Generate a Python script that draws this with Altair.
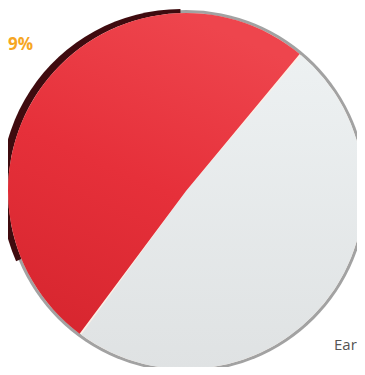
import math
import altair as alt
import pandas as pd

# ---- data ----
categories = ["Other", "Share"]
values = [49, 51]
order = [0, 1]
label_texts = ["9%", "Ear"]

df = pd.DataFrame({"category": categories, "value": values, "order": order})
labels = pd.DataFrame({"text": label_texts})

W, H = 349, 359
CX, CY = 178, 183
R = 179
START = math.radians(40)

one = pd.DataFrame({"a": [0]})

ring = alt.Chart(one).mark_arc(
    radius=R + 2, theta=0, theta2=2 * math.pi, color="#a2a2a2"
).encode(x=alt.value(CX), y=alt.value(CY))

shadow = alt.Chart(one).mark_arc(
    radius=R + 1, theta=4.3, theta2=6.28, color="#3f0b0f"
).encode(x=alt.value(CX - 5), y=alt.value(CY - 2))

cream = alt.Chart(one).mark_arc(
    radius=R - 1, theta=0, theta2=2 * math.pi, color="#fbefe6"
).encode(x=alt.value(CX), y=alt.value(CY))

pie_base = (
    alt.Chart(df)
    .transform_window(cum="sum(value)", sort=[alt.SortField("order")], frame=[None, 0])
    .transform_calculate(t0="datum.cum - datum.value")
)

theta_scale = alt.Scale(domain=[0, 100], range=[START, START + 2 * math.pi])

red_grad = {
    "gradient": "linear", "x1": 0.6, "y1": 0, "x2": 0.2, "y2": 1,
    "stops": [{"offset": 0, "color": "#ee454d"},
              {"offset": 0.5, "color": "#e6303a"},
              {"offset": 1, "color": "#d7262f"}],
}
gray_grad = {
    "gradient": "linear", "x1": 0, "y1": 0, "x2": 0, "y2": 1,
    "stops": [{"offset": 0, "color": "#edf1f2"},
              {"offset": 1, "color": "#dfe2e3"}],
}

def slice_layer(cat, fill):
    return (
        pie_base.transform_filter(alt.datum.category == cat)
        .mark_arc(radius=R - 1, padAngle=0.011, fill=fill)
        .encode(
            theta=alt.Theta("cum:Q", scale=theta_scale, stack=None),
            theta2="t0:Q",
            x=alt.value(CX),
            y=alt.value(CY),
        )
    )

gray_slice = slice_layer("Other", gray_grad)
red_slice = slice_layer("Share", red_grad)

txt_pct = alt.Chart(labels).transform_filter(alt.datum.text == "9%").mark_text(
    align="left", baseline="alphabetic", font="Open Sans", fontWeight="bold",
    fontSize=17, color="#f6a623"
).encode(text="text:N", x=alt.value(0), y=alt.value(42))

txt_ear = alt.Chart(labels).transform_filter(alt.datum.text == "Ear").mark_text(
    align="left", baseline="alphabetic", font="Open Sans",
    fontSize=15, color="#555555"
).encode(text="text:N", x=alt.value(326), y=alt.value(342))

chart = (
    alt.layer(ring, shadow, cream, gray_slice, red_slice, txt_pct, txt_ear)
    .properties(width=W, height=H, padding=0, autosize=alt.AutoSizeParams(type="none"))
    .configure_view(stroke=None)
)

chart.save("out.html", embed_options={"renderer": "svg", "actions": False})
